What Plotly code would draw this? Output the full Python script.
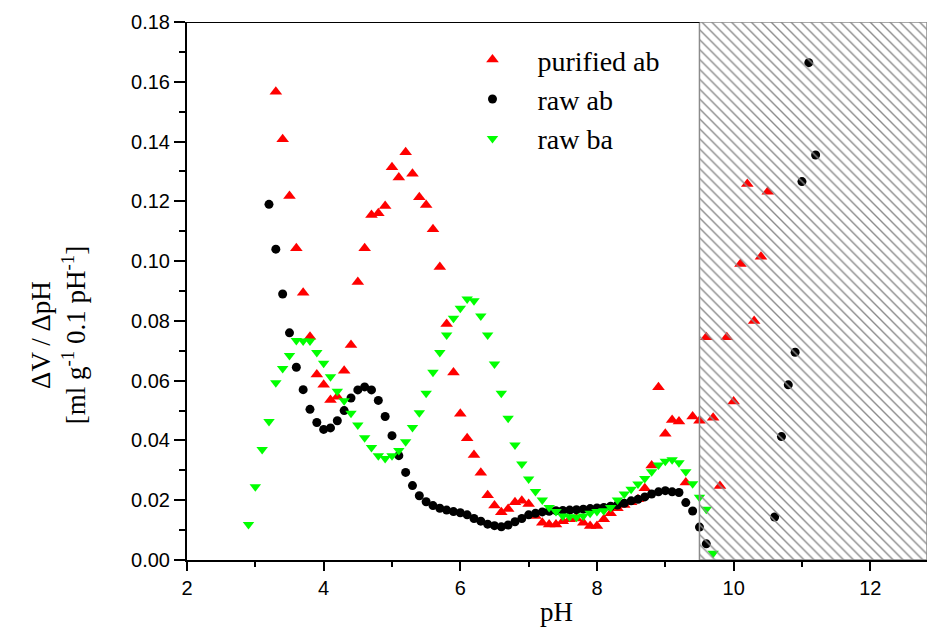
import plotly.graph_objects as go

# ---------------- data ----------------
purified_ab_ph = [3.3, 3.4, 3.5, 3.6, 3.7, 3.8, 3.9, 4.0, 4.1, 4.2, 4.3, 4.4, 4.5, 4.6, 4.7, 4.8, 4.9,
                  5.0, 5.1, 5.2, 5.3, 5.4, 5.5, 5.6, 5.7, 5.8, 5.9, 6.0, 6.1, 6.2, 6.3, 6.4, 6.5, 6.6,
                  6.7, 6.8, 6.9, 7.0, 7.1, 7.2, 7.3, 7.4, 7.5, 7.6, 7.7, 7.8, 7.9, 8.0, 8.1, 8.2, 8.3,
                  8.4, 8.5, 8.6, 8.7, 8.8, 8.9, 9.0, 9.1, 9.2, 9.3, 9.4, 9.5, 9.6, 9.7, 9.8, 9.9, 10.0,
                  10.1, 10.2, 10.3, 10.4, 10.5]
purified_ab_val = [0.1567, 0.1408, 0.1218, 0.1043, 0.0894, 0.0747, 0.0621, 0.0586, 0.0535, 0.0546,
                   0.0633, 0.0719, 0.0930, 0.1043, 0.1154, 0.1160, 0.1184, 0.1314, 0.1280, 0.1364,
                   0.1292, 0.1214, 0.1188, 0.1107, 0.0980, 0.0790, 0.0627, 0.0489, 0.0407, 0.0351,
                   0.0292, 0.0217, 0.0182, 0.0160, 0.0171, 0.0193, 0.0198, 0.0187, 0.0147, 0.0125,
                   0.0119, 0.0119, 0.0130, 0.0136, 0.0139, 0.0125, 0.0114, 0.0114, 0.0136, 0.0156,
                   0.0173, 0.0184, 0.0193, 0.0203, 0.0240, 0.0316, 0.0578, 0.0422, 0.0468, 0.0463,
                   0.0259, 0.0480, 0.0466, 0.0745, 0.0476, 0.0248, 0.0745, 0.0530, 0.0990, 0.1258,
                   0.0800, 0.1015, 0.1232]

raw_ab_ph = [3.2, 3.3, 3.4, 3.5, 3.6, 3.7, 3.8, 3.9, 4.0, 4.1, 4.2, 4.3, 4.4, 4.5, 4.6, 4.7, 4.8,
             4.9, 5.0, 5.1, 5.2, 5.3, 5.4, 5.5, 5.6, 5.7, 5.8, 5.9, 6.0, 6.1, 6.2, 6.3, 6.4, 6.5,
             6.6, 6.7, 6.8, 6.9, 7.0, 7.1, 7.2, 7.3, 7.4, 7.5, 7.6, 7.7, 7.8, 7.9, 8.0, 8.1, 8.2,
             8.3, 8.4, 8.5, 8.6, 8.7, 8.8, 8.9, 9.0, 9.1, 9.2, 9.3, 9.4, 9.5, 9.6,
             10.6, 10.7, 10.8, 10.9, 11.0, 11.1, 11.2]
raw_ab_val = [0.1190, 0.1040, 0.0890, 0.0760, 0.0645, 0.0570, 0.0504, 0.0460, 0.0437, 0.0442,
              0.0466, 0.0500, 0.0542, 0.0569, 0.0579, 0.0569, 0.0534, 0.0480, 0.0416, 0.0349,
              0.0293, 0.0249, 0.0215, 0.0195, 0.0182, 0.0173, 0.0167, 0.0162, 0.0158, 0.0151,
              0.0139, 0.0130, 0.0120, 0.0115, 0.0111, 0.0117, 0.0128, 0.0139, 0.0151, 0.0156,
              0.0161, 0.0163, 0.0165, 0.0166, 0.0167, 0.0168, 0.0170, 0.0172, 0.0174, 0.0176,
              0.0180, 0.0184, 0.0190, 0.0198, 0.0203, 0.0211, 0.0221, 0.0228, 0.0232, 0.0228,
              0.0226, 0.0192, 0.0164, 0.0110, 0.0054,
              0.0144, 0.0413, 0.0586, 0.0695, 0.1266, 0.1664, 0.1355]

raw_ba_ph = [2.9, 3.0, 3.1, 3.2, 3.3, 3.4, 3.5, 3.6, 3.7, 3.8, 3.9, 4.0, 4.1, 4.2, 4.3, 4.4, 4.5,
             4.6, 4.7, 4.8, 4.9, 5.0, 5.1, 5.2, 5.3, 5.4, 5.5, 5.6, 5.7, 5.8, 5.9, 6.0, 6.1, 6.2,
             6.3, 6.4, 6.5, 6.6, 6.7, 6.8, 6.9, 7.0, 7.1, 7.2, 7.3, 7.4, 7.5, 7.6, 7.7, 7.8, 7.9,
             8.0, 8.1, 8.2, 8.3, 8.4, 8.5, 8.6, 8.7, 8.8, 8.9, 9.0, 9.1, 9.2, 9.3, 9.4, 9.5, 9.6, 9.7]
raw_ba_val = [0.0119, 0.0245, 0.0370, 0.0463, 0.0593, 0.0641, 0.0684, 0.0734, 0.0733, 0.0733,
              0.0694, 0.0658, 0.0613, 0.0565, 0.0533, 0.0491, 0.0452, 0.0409, 0.0376, 0.0349,
              0.0340, 0.0349, 0.0366, 0.0396, 0.0443, 0.0493, 0.0558, 0.0628, 0.0694, 0.0753,
              0.0809, 0.0842, 0.0873, 0.0867, 0.0816, 0.0753, 0.0656, 0.0558, 0.0474, 0.0385,
              0.0321, 0.0271, 0.0229, 0.0201, 0.0176, 0.0162, 0.0147, 0.0145, 0.0143, 0.0147,
              0.0156, 0.0162, 0.0165, 0.0176, 0.0201, 0.0221, 0.0237, 0.0254, 0.0273, 0.0295,
              0.0318, 0.0330, 0.0335, 0.0325, 0.0295, 0.0255, 0.0210, 0.0170, 0.0023]

series_names = ["purified ab", "raw ab", "raw ba"]
x_ticks = [2, 4, 6, 8, 10, 12]
y_ticks = [0.00, 0.02, 0.04, 0.06, 0.08, 0.10, 0.12, 0.14, 0.16, 0.18]
X_RANGE = [2, 12.83]
Y_RANGE = [0, 0.18]
HATCH_START = 9.5  # start of hatched pH region

# ---------------- figure ----------------
fig = go.Figure()

fig.add_trace(go.Scatter(x=purified_ab_ph, y=purified_ab_val, mode="markers", name=series_names[0],
                         legendgroup="a",
                         marker=dict(symbol="triangle-up", size=11, color="#FF0000")))
fig.add_trace(go.Scatter(x=raw_ab_ph, y=raw_ab_val, mode="markers", name=series_names[1],
                         legendgroup="b",
                         marker=dict(symbol="circle", size=9, color="#000000")))
fig.add_trace(go.Scatter(x=raw_ba_ph, y=raw_ba_val, mode="markers", name=series_names[2],
                         legendgroup="c",
                         marker=dict(symbol="triangle-down", size=10, color="#00FF00")))

# hatched region drawn over the markers
fig.add_trace(go.Scatter(
    x=[HATCH_START, X_RANGE[1], X_RANGE[1], HATCH_START, HATCH_START],
    y=[Y_RANGE[0], Y_RANGE[0], Y_RANGE[1], Y_RANGE[1], Y_RANGE[0]],
    mode="lines", fill="toself", showlegend=False, hoverinfo="skip",
    line=dict(color="#8c8c8c", width=1.5),
    fillcolor="rgba(0,0,0,0)",
    fillpattern=dict(shape="\\", size=7, solidity=0.2, fgcolor="#8a8a8a",
                     bgcolor="rgba(0,0,0,0)", fillmode="replace"),
))

axis_font = dict(family="Liberation Sans, Arial, sans-serif", size=20, color="black")
title_font = dict(family="Liberation Serif, Times New Roman, serif", size=27, color="black")
legend_font = dict(family="Liberation Serif, Times New Roman, serif", size=28, color="black")

fig.update_layout(
    width=927, height=635,
    margin=dict(l=187, r=0, t=22, b=75),
    paper_bgcolor="white", plot_bgcolor="white",
    showlegend=True,
    legend=dict(x=0.352, y=0.976, xanchor="left", yanchor="top",
                font=legend_font, bgcolor="rgba(0,0,0,0)", itemwidth=80,
                tracegroupgap=0),
    xaxis=dict(range=X_RANGE, tickvals=x_ticks, ticktext=[str(v) for v in x_ticks],
               showline=True, linecolor="black", linewidth=2,
               ticks="outside", ticklen=9, tickwidth=2, tickcolor="black",
               minor=dict(dtick=1, ticks="outside", ticklen=5, tickwidth=2, tickcolor="black"),
               showgrid=False, zeroline=False, tickfont=axis_font),
    yaxis=dict(range=Y_RANGE, tickvals=y_ticks, ticktext=[f"{v:.2f}" for v in y_ticks],
               showline=True, linecolor="black", linewidth=2,
               ticks="outside", ticklen=11, tickwidth=2, tickcolor="black",
               minor=dict(dtick=0.01, ticks="outside", ticklen=6, tickwidth=2, tickcolor="black"),
               showgrid=False, zeroline=False, tickfont=axis_font),
    shapes=[dict(type="line", xref="x", yref="y", x0=X_RANGE[0], x1=HATCH_START,
                 y0=Y_RANGE[1], y1=Y_RANGE[1], line=dict(color="black", width=2))],
    annotations=[
        dict(text="pH", xref="paper", yref="paper", x=0.499, y=-0.097,
             xanchor="center", yanchor="middle", showarrow=False, font=title_font),
        dict(text="ΔV / ΔpH<br>[ml g<sup>-1</sup> 0.1 pH<sup>-1</sup>]", xref="paper", yref="paper",
             x=-0.174, y=0.418, xanchor="center", yanchor="middle", textangle=-90,
             showarrow=False, font=title_font),
    ],
)

# remove the browser's default page margin so the 927x635 figure fills the window
fig.write_html("out.html",
               config={"displayModeBar": False},
               post_script="document.body.style.margin='0';document.body.style.overflow='hidden';")
